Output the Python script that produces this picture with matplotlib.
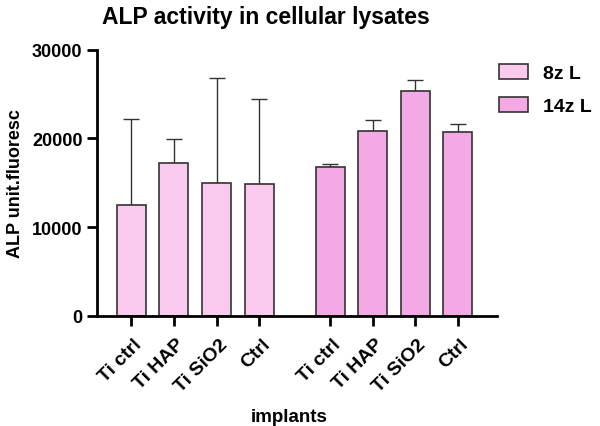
import matplotlib
matplotlib.use("Agg")
import matplotlib.pyplot as plt
import matplotlib.transforms as mtransforms
import numpy as np

plt.rcParams['font.family'] = ['Liberation Sans', 'DejaVu Sans']
plt.rcParams['font.weight'] = 'bold'

categories = ["Ti ctrl", "Ti HAP", "Ti SiO2", "Ctrl"]
series_names = ["8z L", "14z L"]
values_8z = [12500, 17250, 14970, 14900]
err_8z = [9650, 2650, 11850, 9500]
values_14z = [16780, 20830, 25380, 20720]
err_14z = [370, 1200, 1270, 970]
colors = ["#F9C9EE", "#F3A9E4"]

fig = plt.figure(figsize=(6.0, 4.27), dpi=100)
ax = fig.add_axes([0.162, 0.258, 0.666, 0.623])

pos1 = np.arange(4)
pos2 = np.arange(4) + 4.66
w = 0.68
ekw = dict(ecolor="#333333", elinewidth=1.0, capsize=5.5, capthick=1.0)
for pos, vals, errs, c, name in [(pos1, values_8z, err_8z, colors[0], series_names[0]),
                                 (pos2, values_14z, err_14z, colors[1], series_names[1])]:
    ax.bar(pos, vals, width=w, color=c, edgecolor="#333333", linewidth=1.2,
           label=name, zorder=2)
    ax.errorbar(pos, vals, yerr=[np.zeros(4), errs], fmt="none", zorder=1, **ekw)

ax.set_xlim(-0.8, 8.57)
ax.set_ylim(0, 30000)
ax.set_yticks([0, 10000, 20000, 30000])
ax.set_yticklabels(["0", "10000", "20000", "30000"], fontsize=13, fontweight="bold")
ax.set_xticks(np.concatenate([pos1, pos2]))
for s in ["top", "right"]:
    ax.spines[s].set_visible(False)
for s in ["left", "bottom"]:
    ax.spines[s].set_linewidth(2)
ax.tick_params(axis="both", width=2, length=7, direction="out", colors="black")
ax.tick_params(axis="x", pad=7)
ax.set_xticklabels(categories + categories, rotation=45, ha="right",
                   rotation_mode="anchor", fontsize=14, fontweight="bold")
offset = mtransforms.ScaledTranslation(2 / 100, 0, fig.dpi_scale_trans)
for lab in ax.get_xticklabels():
    lab.set_transform(lab.get_transform() + offset)

ax.set_ylabel("ALP unit.fluoresc", fontsize=13, fontweight="bold", labelpad=6)
ax.set_xlabel("implants", fontsize=13.5, fontweight="bold", va="center")
ax.xaxis.set_label_coords(0.48, -0.38)
fig.suptitle("ALP activity in cellular lysates", x=0.443, y=0.985, fontsize=16.5,
             fontweight="bold", va="top")

leg = ax.legend(loc="upper left", bbox_to_anchor=(1.0, 0.955), frameon=False,
                fontsize=14, handlelength=1.5, handleheight=0.85, handletextpad=0.8,
                labelspacing=0.75, borderaxespad=0.0, borderpad=0.1)
for t in leg.get_texts():
    t.set_fontweight("bold")

fig.savefig("out.png", dpi=100)
